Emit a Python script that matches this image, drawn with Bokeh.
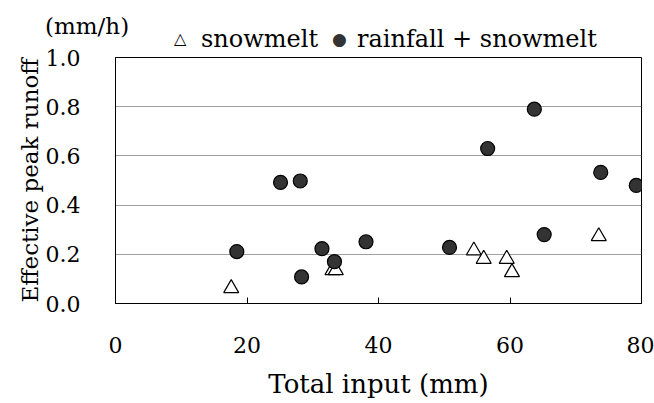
from bokeh.plotting import figure
from bokeh.layouts import column
from bokeh.models import Range1d, FixedTicker, CustomJSTickFormatter, Div
from bokeh.embed import file_html
from bokeh.resources import INLINE

# snowmelt events
snow_x = [17.6, 33.0, 33.5, 54.5, 56.0, 59.5, 60.3, 73.5]
snow_y = [0.062, 0.135, 0.135, 0.215, 0.181, 0.181, 0.127, 0.273]

# rainfall + snowmelt events
rain_x = [18.45, 25.1, 28.1, 28.3, 31.4, 33.3, 38.1, 50.8, 56.6, 63.7, 65.2, 73.8, 79.2]
rain_y = [0.211, 0.492, 0.498, 0.108, 0.223, 0.170, 0.251, 0.228, 0.630, 0.790, 0.280, 0.533, 0.480]

series_labels = ["snowmelt", "rainfall + snowmelt"]
series_symbols = ["\u25b3", "\u25cf"]
unit_label = "(mm/h)"
x_label = "Total input (mm)"
y_label = "Effective peak runoff"

x_ticks = [0, 20, 40, 60, 80]
y_ticks = [0.0, 0.2, 0.4, 0.6, 0.8, 1.0]

FONT = "DejaVu Serif"


def span(text, left, top, size, color="black"):
    return (f'<span style="position:absolute;left:{left}px;top:{top}px;font-size:{size}px;'
            f'line-height:1;white-space:nowrap;color:{color};">{text}</span>')


# ---------- header: unit label + text legend (as in the original chart) ----------
head_html = (
    f'<div style="position:relative;width:654px;height:42px;overflow:visible;'
    f'font-family:\'{FONT}\';color:black;">'
    + span(unit_label, 45, 15, 23)
    + span(series_symbols[0], 174, 31, 16)
    + span(series_labels[0], 201, 27, 24)
    + span(series_symbols[1], 332, 31, 17, "#333333")
    + span(series_labels[1], 357, 27, 24)
    + '</div>'
)
head = Div(text=head_html, width=654, height=42, margin=0,
           styles={"overflow": "visible", "z-index": "2"})

# ---------- main plot ----------
p = figure(frame_width=526, frame_height=246, min_border_left=115, min_border_right=13,
           min_border_top=15, min_border_bottom=100,
           x_range=Range1d(0, 80), y_range=Range1d(0, 1.0),
           output_backend="svg", toolbar_location=None)

p.border_fill_alpha = 0
p.background_fill_color = "white"
p.outline_line_color = "black"
p.outline_line_width = 1
p.xgrid.grid_line_color = None
p.ygrid.grid_line_color = "#a0a0a0"
p.ygrid.grid_line_width = 1

p.xaxis.ticker = FixedTicker(ticks=x_ticks)
p.yaxis.ticker = FixedTicker(ticks=y_ticks)
p.yaxis.formatter = CustomJSTickFormatter(code="return tick.toFixed(1);")

for ax in (p.xaxis[0], p.yaxis[0]):
    ax.axis_line_color = "black"
    ax.major_label_text_font = FONT
    ax.major_label_text_font_size = "22px"
    ax.major_label_text_color = "black"
    ax.axis_label_text_font = FONT
    ax.axis_label_text_font_style = "normal"
    ax.axis_label_text_color = "black"
    ax.minor_tick_line_color = None

p.xaxis.major_tick_in = 6
p.xaxis.major_tick_out = 0
p.xaxis.major_tick_line_color = "black"
p.xaxis.major_label_standoff = 33
p.xaxis.axis_label = x_label
p.xaxis.axis_label_text_font_size = "26px"
p.xaxis.axis_label_standoff = 13

p.yaxis.major_tick_in = 0
p.yaxis.major_tick_out = 0
p.yaxis.major_label_standoff = 35
p.yaxis.axis_label = y_label
p.yaxis.axis_label_text_font_size = "23px"
p.yaxis.axis_label_standoff = 0

p.scatter(snow_x, snow_y, marker="triangle", size=15, fill_color="white",
          line_color="black", line_width=1.2)
p.scatter(rain_x, rain_y, marker="circle", size=14, fill_color="#333333",
          line_color="black", line_width=1.2)

layout = column(head, p, spacing=0)
open("out.html", "w").write(file_html(layout, INLINE))
